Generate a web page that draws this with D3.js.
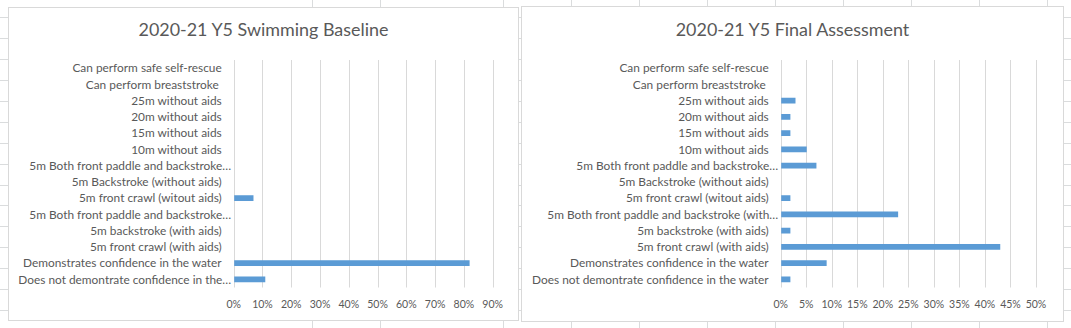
<!DOCTYPE html>
<html><head><meta charset="utf-8">
<script src="https://cdn.jsdelivr.net/npm/d3@7"></script>
<style>
html,body{margin:0;padding:0;background:#fff;overflow:hidden;}
svg{display:block;}
text{font-family:Lato,"Open Sans",sans-serif;fill:#595959;white-space:pre;}
</style></head><body>
<svg id="c" width="1071" height="328"></svg>
<script>
// ---- data (top to bottom as displayed) ----
const categories = [
  "Can perform safe self-rescue",
  "Can perform breaststroke ",
  "25m without aids",
  "20m without aids",
  "15m without aids",
  "10m without aids",
  "5m Both front paddle and backstroke (without aids)",
  "5m Backstroke (without aids)",
  "5m front crawl (witout aids)",
  "5m Both front paddle and backstroke (with aids)",
  "5m backstroke (with aids)",
  "5m front crawl (with aids)",
  "Demonstrates confidence in the water",
  "Does not demontrate confidence in the water"
];
const baselineLabels = [
  "Can perform safe self-rescue",
  "Can perform breaststroke ",
  "25m without aids",
  "20m without aids",
  "15m without aids",
  "10m without aids",
  "5m Both front paddle and backstroke…",
  "5m Backstroke (without aids)",
  "5m front crawl (witout aids)",
  "5m Both front paddle and backstroke…",
  "5m backstroke (with aids)",
  "5m front crawl (with aids)",
  "Demonstrates confidence in the water",
  "Does not demontrate confidence in the…"
];
const finalLabels = [
  "Can perform safe self-rescue",
  "Can perform breaststroke ",
  "25m without aids",
  "20m without aids",
  "15m without aids",
  "10m without aids",
  "5m Both front paddle and backstroke…",
  "5m Backstroke (without aids)",
  "5m front crawl (witout aids)",
  "5m Both front paddle and backstroke (with…",
  "5m backstroke (with aids)",
  "5m front crawl (with aids)",
  "Demonstrates confidence in the water",
  "Does not demontrate confidence in the water"
];
const baselineValues = [0, 0, 0, 0, 0, 0, 0, 0, 0.067, 0, 0, 0, 0.818, 0.108];
const finalValues    = [0, 0, 0.028, 0.018, 0.018, 0.05, 0.069, 0, 0.018, 0.229, 0.018, 0.429, 0.089, 0.018];
const baselineTicks = [0, 0.1, 0.2, 0.3, 0.4, 0.5, 0.6, 0.7, 0.8, 0.9];
const finalTicks    = [0, 0.05, 0.1, 0.15, 0.2, 0.25, 0.3, 0.35, 0.4, 0.45, 0.5];
const baselineTitle = "2020-21 Y5 Swimming Baseline";
const finalTitle    = "2020-21 Y5 Final Assessment";

// ---- spreadsheet background grid (decoration) ----
const sheetColumns = [311.5, 379.8, 502.7, 570.5, 638.5, 706.5, 774.5, 842.5, 910.5, 978.5, 1046.5];
const sheetRowStart = 17.3, sheetRowStep = 20.9;

const svg = d3.select("#c");
const W = 1071, H = 328;

const bg = svg.append("g");
bg.selectAll("line.r").data(d3.range(sheetRowStart, H, sheetRowStep)).join("line")
  .attr("x1", 0).attr("x2", W)
  .attr("y1", d => Math.round(d) + 0.5).attr("y2", d => Math.round(d) + 0.5)
  .attr("stroke", "#dadcdd").attr("stroke-width", 1);
bg.selectAll("line.c").data(sheetColumns).join("line")
  .attr("y1", 0).attr("y2", H)
  .attr("x1", d => Math.round(d) + 0.5).attr("x2", d => Math.round(d) + 0.5)
  .attr("stroke", "#dadcdd").attr("stroke-width", 1);

function fitSize(str, target, base) {
  const t = svg.append("text").style("font-size", base + "px").text(str);
  const w = t.node().getComputedTextLength();
  t.remove();
  return base * target / w;
}
const labelSize = fitSize("Demonstrates confidence in the water", 198.7, 12);
const tickSize = fitSize("50%", 20.7, 12);
const titleSize = fitSize(baselineTitle, 250, 18.7);

function drawChart(cfg) {
  const g = svg.append("g");
  g.append("rect")
    .attr("x", cfg.frame[0] + 0.5).attr("y", cfg.frame[1] + 0.5)
    .attr("width", cfg.frame[2]).attr("height", cfg.frame[3])
    .attr("fill", "#fff").attr("stroke", "#d9d9d9").attr("stroke-width", 1);

  g.append("text")
    .attr("x", cfg.frame[0] + cfg.frame[2] / 2 + 0.5)
    .attr("y", 36.3)
    .attr("text-anchor", "middle")
    .style("font-size", titleSize + "px")
    .text(cfg.title);

  const x = d3.scaleLinear().domain([0, cfg.max]).range([cfg.x0, cfg.x1]);
  const y = d3.scaleBand().domain(cfg.categories).range([60, 287.5])
    .paddingInner(0.645).paddingOuter(0.3225);

  // vertical gridlines
  g.append("g").selectAll("line").data(cfg.ticks).join("line")
    .attr("x1", d => Math.round(x(d)) + 0.5).attr("x2", d => Math.round(x(d)) + 0.5)
    .attr("y1", 60).attr("y2", 287.5)
    .attr("stroke", "#d9d9d9").attr("stroke-width", 1);

  // bars
  g.append("g").selectAll("rect").data(cfg.values.map((v, i) => ({v, c: cfg.categories[i]})))
    .join("rect")
    .attr("x", x(0) + 0.5)
    .attr("y", d => y(d.c))
    .attr("width", d => Math.max(0, x(d.v) - x(0)))
    .attr("height", y.bandwidth())
    .attr("fill", "#5b9bd5");

  // category labels
  g.append("g").selectAll("text").data(cfg.labels.map((l, i) => ({l, c: cfg.categories[i]})))
    .join("text")
    .attr("x", d => d.l.endsWith("…") ? x(0) - 2.5 : x(0) - 12)
    .attr("y", d => y(d.c) + y.bandwidth() / 2)
    .attr("dy", "0.36em")
    .attr("text-anchor", "end")
    .style("font-size", labelSize + "px")
    .text(d => d.l);

  // tick labels
  g.append("g").selectAll("text").data(cfg.ticks).join("text")
    .attr("x", d => x(d))
    .attr("y", 307.5)
    .attr("text-anchor", "middle")
    .style("font-size", tickSize + "px")
    .text(d => d3.format(".0%")(d));
}

drawChart({
  frame: [8, 7, 510, 313], title: baselineTitle,
  categories, labels: baselineLabels, values: baselineValues, ticks: baselineTicks,
  max: 0.9, x0: 233.7, x1: 492.7
});
drawChart({
  frame: [521, 6, 542, 315], title: finalTitle,
  categories, labels: finalLabels, values: finalValues, ticks: finalTicks,
  max: 0.5, x0: 780.7, x1: 1036
});
</script>
</body></html>
